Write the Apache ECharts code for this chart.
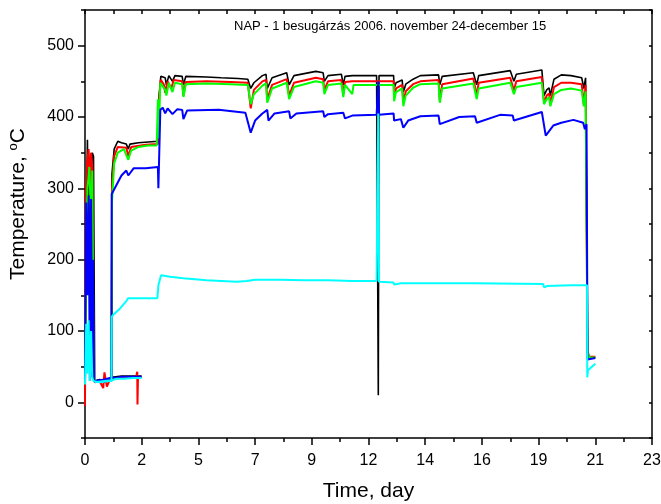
<!DOCTYPE html>
<html><head><meta charset="utf-8">
<script src="https://cdn.jsdelivr.net/npm/echarts@6/dist/echarts.min.js"></script>
<style>html,body{margin:0;padding:0;background:#fff}#c{width:661px;height:504px}</style>
</head><body><div id="c"></div>
<script>
// ---- data: [day, temperature °C] ----
var titleText = 'NAP - 1 besugárzás 2006. november 24-december 15';
var yLabelValues = [0, 100, 200, 300, 400, 500];
var yMinorValues = [-50, 50, 150, 250, 350, 450, 550];

var black = [[0,30],[0.05,250],[0.1,368],[0.15,200],[0.2,340],[0.25,40],[0.3,350],[0.35,345],[0.4,30],[0.6,32],[0.8,28],[1.0,33],[1.09,32],[1.11,320],[1.2,355],[1.35,366],[1.5,364],[1.7,362],[1.78,355],[1.85,362],[2.2,364],[2.6,365],[3.0,366],[3.05,430],[3.12,457],[3.3,455],[3.35,445],[3.45,458],[3.6,450],[3.7,458],[4.0,457],[4.05,445],[4.15,457],[5.0,456],[5.6,455],[6.3,454],[6.7,453],[6.82,440],[6.95,448],[7.3,458],[7.45,460],[7.5,440],[7.7,455],[8.3,462],[8.4,445],[8.6,458],[9.5,464],[9.8,462],[9.85,450],[10.0,458],[10.55,460],[10.63,445],[10.7,457],[11.0,458],[12.0,458],[12.07,10],[12.1,458],[12.7,458],[12.72,440],[12.8,448],[13.05,452],[13.1,435],[13.2,446],[13.5,453],[13.8,458],[14.55,459],[14.6,445],[14.7,457],[15.98,462],[16.12,445],[16.2,458],[17.5,465],[17.65,450],[17.75,460],[18.8,466],[18.89,430],[19.0,438],[19.1,441],[19.15,430],[19.3,453],[19.6,459],[20.0,458],[20.44,455],[20.53,440],[20.6,455],[20.66,455],[20.68,70],[20.75,62],[21.0,63]];
var red = [[0,-5],[0.04,300],[0.1,340],[0.15,355],[0.2,300],[0.25,350],[0.3,330],[0.35,40],[0.4,28],[0.6,30],[0.75,20],[0.8,42],[0.9,22],[1.0,30],[1.09,30],[1.11,300],[1.2,345],[1.35,358],[1.7,357],[1.78,345],[1.9,358],[2.5,361],[3.0,362],[3.05,425],[3.12,452],[3.25,445],[3.3,434],[3.4,450],[3.55,440],[3.65,452],[4.0,450],[4.05,430],[4.15,449],[5.0,450],[6.0,449],[6.7,448],[6.82,412],[6.95,438],[7.3,450],[7.45,452],[7.5,425],[7.7,445],[8.3,453],[8.4,430],[8.6,448],[9.5,455],[9.8,453],[9.85,438],[10.0,450],[10.55,452],[10.63,432],[10.7,449],[11.0,450],[12.7,450],[12.72,427],[12.8,440],[13.05,445],[13.1,420],[13.2,436],[13.5,446],[13.8,450],[14.55,452],[14.6,423],[14.7,446],[15.98,454],[16.12,430],[16.2,448],[17.5,455],[17.65,437],[17.75,450],[18.8,456],[18.89,420],[19.0,430],[19.1,433],[19.15,418],[19.3,442],[19.6,448],[20.0,448],[20.44,446],[20.53,416],[20.6,445],[20.66,445],[20.68,72],[20.75,64],[21.0,64]];
var green = [[0,30],[0.05,200],[0.1,300],[0.18,330],[0.25,250],[0.3,325],[0.35,40],[0.4,30],[1.09,30],[1.11,280],[1.2,335],[1.35,350],[1.6,355],[1.78,340],[1.9,353],[2.2,358],[2.6,360],[2.95,360],[3.0,425],[3.03,370],[3.1,448],[3.3,438],[3.35,430],[3.45,448],[3.6,435],[3.7,448],[4.0,446],[4.05,428],[4.15,446],[5.0,447],[6.0,446],[6.7,445],[6.82,418],[6.95,432],[7.3,444],[7.45,447],[7.5,420],[7.7,440],[8.3,448],[8.4,425],[8.6,442],[9.5,450],[9.8,448],[9.85,432],[10.0,445],[10.55,447],[10.63,428],[10.7,445],[11.0,432],[11.05,445],[12.7,445],[12.72,422],[12.8,435],[13.05,440],[13.1,415],[13.2,430],[13.5,441],[13.8,446],[14.55,447],[14.6,420],[14.7,440],[15.98,447],[16.12,425],[16.2,440],[17.5,448],[17.65,432],[17.75,442],[18.8,448],[18.89,418],[19.0,425],[19.1,428],[19.15,415],[19.3,432],[19.6,438],[20.0,440],[20.44,437],[20.53,415],[20.6,436],[20.66,436],[20.68,70],[20.75,63],[21.0,63]];
var blue = [[0,30],[0.05,280],[0.1,150],[0.15,290],[0.2,30],[0.25,285],[0.3,35],[0.33,200],[0.37,30],[0.6,30],[1.09,32],[1.1,292],[1.3,305],[1.5,318],[1.7,325],[1.78,318],[2.0,328],[2.5,328],[3.0,330],[3.02,300],[3.1,410],[3.2,413],[3.3,405],[3.4,412],[3.6,404],[3.8,411],[4.0,410],[4.05,397],[4.2,409],[5.5,410],[6.6,406],[6.82,378],[7.0,395],[7.3,405],[7.5,410],[7.55,395],[7.8,405],[8.4,408],[8.45,398],[8.7,405],[9.8,408],[9.85,400],[10.0,404],[10.63,406],[10.7,398],[11.0,402],[12.0,403],[12.07,450],[12.1,403],[12.7,405],[12.72,395],[13.0,397],[13.1,385],[13.3,395],[13.8,401],[14.55,402],[14.6,390],[15.4,400],[16.05,401],[16.12,392],[17.08,403],[17.6,402],[17.65,395],[18.8,407],[18.96,374],[19.27,388],[19.6,392],[20.1,396],[20.5,392],[20.57,383],[20.64,390],[20.66,390],[20.68,60],[20.75,58],[21.0,62]];
var cyan = [[0,25],[0.05,110],[0.1,40],[0.15,115],[0.2,30],[0.25,100],[0.3,35],[0.35,30],[0.6,28],[1.0,30],[1.09,30],[1.1,120],[1.2,124],[1.4,130],[1.6,138],[1.7,142],[1.78,146],[2.5,146],[2.98,146],[3.02,164],[3.13,178],[3.5,176],[4.05,174],[5.0,171],[6.24,169],[6.65,170],[7.0,172],[8.0,172],[9.0,171],[10.0,171],[11.0,170],[12.0,170],[12.07,405],[12.1,169],[12.7,168],[12.72,165],[13.0,167],[14.0,167],[16.0,167],[18.85,166],[18.9,161],[19.0,163],[20.0,164],[20.66,164],[20.67,35],[20.7,45],[21.0,54]];
var blackLow = [[1.1,35],[1.5,37],[2.0,37],[2.33,37]];
var redLow = [[1.1,33],[1.5,34],[2.1,35],[2.15,43],[2.16,-3],[2.18,35],[2.33,35]];
var blueLow = [[0.4,30],[0.8,32],[1.1,35],[1.3,34],[1.5,36],[1.8,36],[2.0,36],[2.33,36]];
var cyanLow = [[0.4,28],[0.8,30],[1.1,31],[1.3,33],[1.6,33],[2.0,34],[2.33,34]];

var FONT = 'Liberation Sans';
var xMax = 70/3, xStep = 7/3;
function ln(data, color, w, z) {
  return {type:'line', data:data, showSymbol:false, symbol:'none', silent:true, z:z,
          lineStyle:{color:color, width:w}, animation:false};
}
var chart = echarts.init(document.getElementById('c'), null, {renderer:'canvas'});
chart.setOption({
  animation:false,
  backgroundColor:'#fff',
  title:{text:titleText, left:229, top:15, textStyle:{fontFamily:FONT, fontSize:13, fontWeight:'normal', color:'#000'}},
  grid:{left:85, right:9, top:10, bottom:66, containLabel:false, outerBoundsMode:'none'},
  xAxis:[
    {type:'value', min:0, max:xMax, interval:xStep, position:'bottom',
     name:'Time, day', nameLocation:'middle', nameGap:43,
     nameTextStyle:{fontFamily:FONT, fontSize:21, color:'#000'},
     axisLine:{show:true, onZero:false, lineStyle:{color:'#000', width:1.5}},
     axisTick:{show:true, inside:false, length:7, lineStyle:{color:'#000', width:1.5}},
     minorTick:{show:true, splitNumber:2, length:4, lineStyle:{color:'#000', width:1.5}},
     axisLabel:{margin:15, fontFamily:FONT, fontSize:16, color:'#000', formatter:function(v){return String(Math.round(v));}},
     splitLine:{show:false}, minorSplitLine:{show:false}},
    {type:'value', min:0, max:xMax, interval:xStep/2, position:'top',
     axisLine:{show:true, onZero:false, lineStyle:{color:'#000', width:1.5}},
     axisTick:{show:true, inside:true, length:4, lineStyle:{color:'#000', width:1.5}},
     axisLabel:{show:false}, splitLine:{show:false}}
  ],
  yAxis:[
    {type:'value', min:-50, max:550, position:'left',
     name:'Temperature, {sup|o}C', nameLocation:'middle', nameGap:55,
     nameTextStyle:{fontFamily:FONT, fontSize:21, color:'#000', padding:[0,0,0,40],
       rich:{sup:{fontFamily:FONT, fontSize:13, color:'#000', verticalAlign:'top', padding:[0,0,10,0]}}},
     axisLine:{show:true, onZero:false, lineStyle:{color:'#000', width:1.5}},
     axisTick:{show:true, inside:false, length:7, customValues:yLabelValues, lineStyle:{color:'#000', width:1.5}},
     axisLabel:{margin:11, fontFamily:FONT, fontSize:16, color:'#000', customValues:yLabelValues},
     splitLine:{show:false}},
    {type:'value', min:-50, max:550, position:'left',
     axisLine:{show:false},
     axisTick:{show:true, inside:false, length:4, customValues:yMinorValues, lineStyle:{color:'#000', width:1.5}},
     axisLabel:{show:false}, splitLine:{show:false}},
    {type:'value', min:-50, max:550, position:'right',
     axisLine:{show:true, onZero:false, lineStyle:{color:'#000', width:1.5}},
     axisTick:{show:true, inside:true, length:3, customValues:yLabelValues.concat(yMinorValues), lineStyle:{color:'#000', width:1.5}},
     axisLabel:{show:false}, splitLine:{show:false}}
  ],
  series:[
    ln(black, '#000000', 1.6, 2),
    ln(blackLow, '#000000', 1.6, 2),
    ln(red, '#ff0000', 2, 3),
    ln(redLow, '#ff0000', 2, 3),
    ln(green, '#00ff00', 2, 4),
    ln(blue, '#0000ff', 2, 5),
    ln(blueLow, '#0000ff', 2, 5),
    ln(cyan, '#00ffff', 2, 6),
    ln(cyanLow, '#00ffff', 2, 6)
  ]
});
</script></body></html>
